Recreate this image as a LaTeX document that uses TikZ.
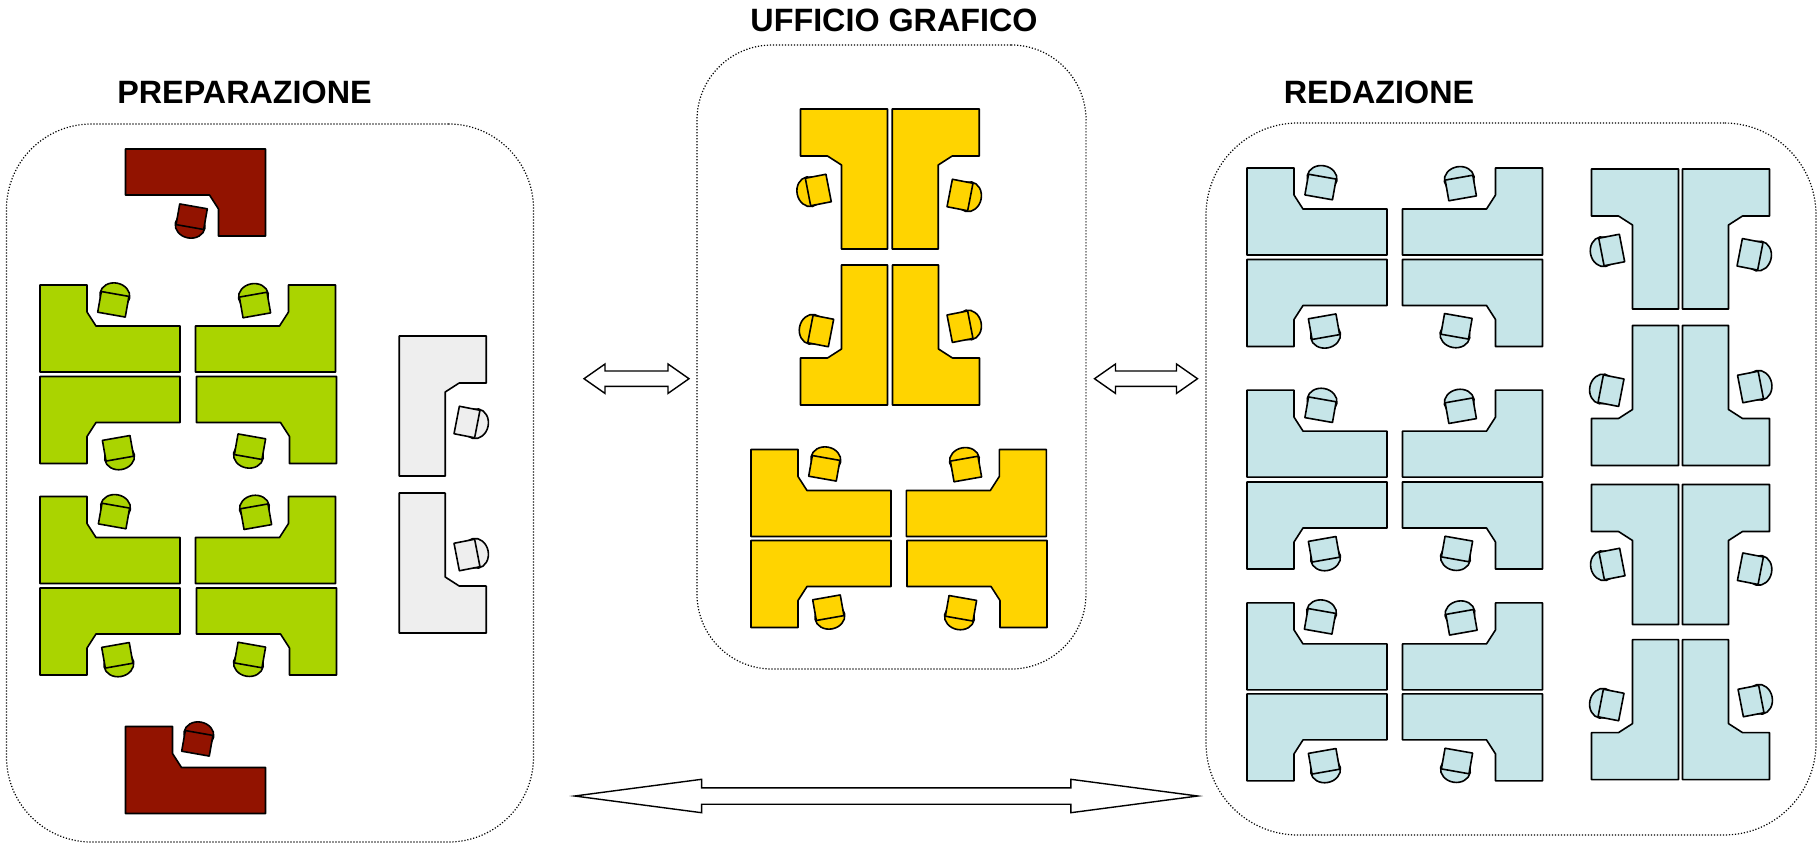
\documentclass[tikz,border=0pt]{standalone}
\usepackage{fontspec}
\setmainfont{Liberation Sans}
\usetikzlibrary{shapes.arrows}
\definecolor{desk_green}{RGB}{170,212,0}
\definecolor{desk_gold}{RGB}{255,212,0}
\definecolor{desk_red}{RGB}{146,19,0}
\definecolor{desk_gray}{RGB}{238,238,238}
\definecolor{desk_blue}{RGB}{198,229,232}

\begin{document}
\begin{tikzpicture}[
    x=1pt, y=-1pt,
    zone/.style={rectangle, draw, line width=1.2pt, dash pattern=on 1.2pt off 1.8pt, inner sep=0pt},
    heading/.style={font=\fontsize{32.3}{36}\selectfont\bfseries, inner sep=0pt},
    arrow/.style={double arrow, draw, line width=1.4pt, fill=white, inner xsep=0pt, inner ysep=7pt},
    wide_tl/.style={}, wide_tr/.style={xscale=-1}, wide_bl/.style={yscale=-1}, wide_br/.style={xscale=-1, yscale=-1},
    tall_tl/.style={rotate=-90, yscale=-1}, tall_tr/.style={xscale=-1, rotate=-90, yscale=-1},
    tall_bl/.style={yscale=-1, rotate=-90, yscale=-1}, tall_br/.style={xscale=-1, yscale=-1, rotate=-90, yscale=-1},
    pics/desk/.style={code={
        \draw[line width=1.6pt, line join=round, fill=#1] (-70,-43.5) -- (-23,-43.5) -- (-23,-16.5) -- (-14,-2.5) -- (70,-2.5) -- (70,43.5) -- (-70,43.5) -- cycle;
    }},
    pics/chair/.style={code={
        \draw[line width=1.6pt, fill=#1] (0,-9) ellipse (15 and 12.5);
        \draw[line width=1.6pt, line join=round, fill=#1] (-14,-10.5) rectangle (14,10.5);
    }}
]
\useasboundingbox (0,0) rectangle (1818,846);

\node[zone, rounded corners=85pt, minimum width=527pt, minimum height=718pt] (prep) at (270,483) {};
\node[zone, rounded corners=75pt, minimum width=389pt, minimum height=624pt] (grafico) at (891.5,357) {};
\node[zone, rounded corners=92pt, minimum width=610pt, minimum height=712pt] (redazione) at (1511,479) {};

\node[heading] (prep_title) at (244.5,92) {PREPARAZIONE};
\node[heading] (grafico_title) at (894,20) {UFFICIO GRAFICO};
\node[heading] (redazione_title) at (1379,92) {REDAZIONE};

\foreach \px/\py/\side in {110/328.5/wide_tl, 265.5/328.5/wide_tr, 110/420/wide_bl, 266.5/420/wide_br,
    110/540/wide_tl, 265.5/540/wide_tr, 110/631.5/wide_bl, 266.5/631.5/wide_br}
    \pic[\side] at (\px,\py) {desk=desk_green};
\foreach \px/\py/\ang in {113.3/304.3/-10, 255/305/10, 118/448.3/-170, 250/446.7/170,
    114/516/-10, 256/516.7/10, 117.3/655.3/-170, 250/655/170}
    \pic[rotate=\ang] at (\px,\py) {chair=desk_green};

\pic[wide_br] at (195.5,192.5) {desk=desk_red};
\pic[rotate=170] at (191.7,216.7) {chair=desk_red};
\pic[wide_tl] at (195.5,770) {desk=desk_red};
\pic[rotate=-10] at (197.3,743.3) {chair=desk_red};

\pic[tall_tr] at (442.7,406) {desk=desk_gray};
\pic[rotate=-101] at (467,422) {chair=desk_gray};
\pic[tall_br] at (442.7,563) {desk=desk_gray};
\pic[rotate=-79] at (467,555) {chair=desk_gray};

\foreach \px/\py/\side in {844/179/tall_tl, 935.7/179/tall_tr, 844/335/tall_bl, 936/335/tall_br,
    821/493/wide_tl, 976.3/493/wide_tr, 821/584/wide_bl, 977/584/wide_br}
    \pic[\side] at (\px,\py) {desk=desk_gold};
\foreach \px/\py/\ang in {818.3/190/101, 960/195/-101, 820.7/331/79, 960/326.7/-79,
    824.3/468.3/-10, 966/469/10, 828.3/607.7/-170, 961/608.3/170}
    \pic[rotate=\ang] at (\px,\py) {chair=desk_gold};

\foreach \py/\qy in {211.5/303, 433.6/525.5, 646.4/737.4} {
    \pic[wide_tl] at (1317,\py) {desk=desk_blue};
    \pic[wide_tr] at (1472.5,\py) {desk=desk_blue};
    \pic[wide_bl] at (1317,\qy) {desk=desk_blue};
    \pic[wide_br] at (1472.5,\qy) {desk=desk_blue};
}
\foreach \py/\side in {239/tall_tl, 395.5/tall_bl, 554.5/tall_tl, 709.6/tall_bl} {
    \pic[\side] at (1635,\py) {desk=desk_blue};
}
\foreach \py/\side in {239/tall_tr, 395.5/tall_br, 554.5/tall_tr, 709.6/tall_br} {
    \pic[\side] at (1726,\py) {desk=desk_blue};
}
\foreach \px/\py/\ang in {1320.5/187/-10, 1460.8/188/10, 1324/326.7/-170, 1456.5/326.3/170,
    1320.5/409.7/-10, 1460.8/410.7/10, 1324/549.3/-170, 1457/549/170,
    1320/621.3/-10, 1461.5/622.3/10, 1324/761.3/-170, 1457/761/170,
    1611.7/250/101, 1750/254.3/-101, 1611/390.7/79, 1750.5/387/-79,
    1612/564/101, 1750.4/568.7/-101, 1611/705/79, 1751/701/-79}
    \pic[rotate=\ang] at (\px,\py) {chair=desk_blue};

\node[arrow, minimum height=105pt, double arrow head extend=7pt, double arrow tip angle=70] (link_left) at (636.5,378.7) {};
\node[arrow, minimum height=103pt, double arrow head extend=7pt, double arrow tip angle=70] (link_right) at (1146,378.7) {};
\node[arrow, inner ysep=7.5pt, minimum height=623pt, double arrow head extend=8.5pt, double arrow tip angle=15] (link_long) at (886.2,796) {};
\end{tikzpicture}
\end{document}
